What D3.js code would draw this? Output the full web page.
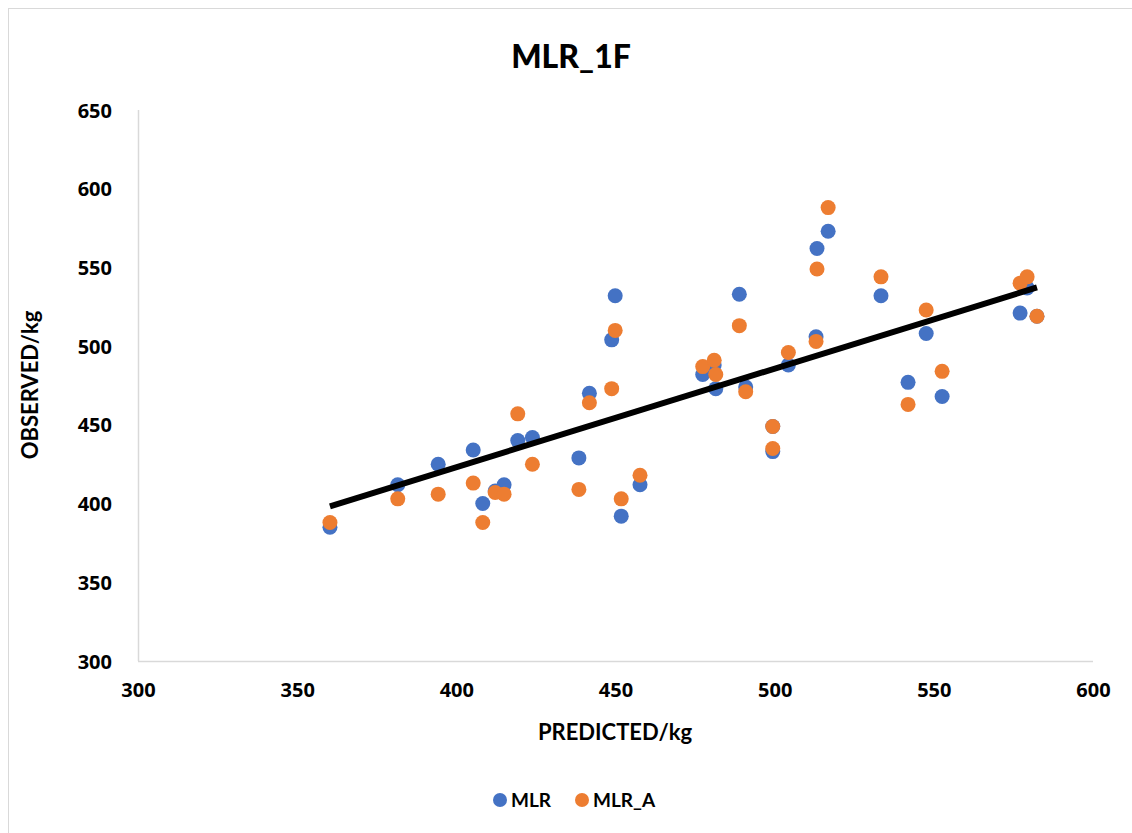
<!DOCTYPE html>
<html>
<head>
<meta charset="utf-8">
<script src="https://cdn.jsdelivr.net/npm/d3@7"></script>
<style>
    body { margin: 0; background: #fff; }
    text { fill: #000; }
</style>
</head>
<body>
<div id="chart"></div>
<script>
// values
const predicted = [360.3, 381.6, 394.3, 405.3, 408.3, 412.2, 415.0, 419.3, 423.9, 438.5,
    441.8, 448.8, 449.9, 451.8, 457.7, 477.4, 481.0, 481.5, 488.9, 490.9,
    499.4, 499.4, 504.3, 513.0, 513.3, 516.8, 533.4, 541.9, 547.6, 552.6,
    577.1, 579.3, 582.4];
const mlr = [385, 412, 425, 434, 400, 408, 412, 440, 442, 429,
    470, 504, 532, 392, 412, 482, 488, 473, 533, 474,
    433, 449, 488, 506, 562, 573, 532, 477, 508, 468,
    521, 537, 519];
const mlrA = [388, 403, 406, 413, 388, 407, 406, 457, 425, 409,
    464, 473, 510, 403, 418, 487, 491, 482, 513, 471,
    435, 449, 496, 503, 549, 588, 544, 463, 523, 484,
    540, 544, 519];
const xTicks = [300, 350, 400, 450, 500, 550, 600];
const yTicks = [300, 350, 400, 450, 500, 550, 600, 650];
const seriesNames = ["MLR", "MLR_A"];
const seriesColors = ["#4472C4", "#ED7D31"];

const W = 1132, H = 833;
const margin = { top: 110, right: 39, bottom: 172, left: 138 };
const width = W - margin.left - margin.right;
const height = H - margin.top - margin.bottom;

const svg = d3.select("#chart").append("svg")
    .attr("width", W)
    .attr("height", H);

svg.append("rect")
    .attr("x", 8.5).attr("y", 8.5)
    .attr("width", W + 20).attr("height", H + 20)
    .attr("fill", "#fff")
    .attr("stroke", "#d9d9d9");

const g = svg.append("g")
    .attr("transform", `translate(${margin.left},${margin.top})`);

const x = d3.scaleLinear().domain([300, 600]).range([0, width]);
const y = d3.scaleLinear().domain([300, 650]).range([height, 0]);

// axes: plain grey lines, no ticks
const xAxis = g.append("g")
    .attr("transform", `translate(0,${height})`)
    .call(d3.axisBottom(x).tickValues(xTicks).tickSize(0).tickPadding(22));
const yAxis = g.append("g")
    .call(d3.axisLeft(y).tickValues(yTicks).tickSize(0).tickPadding(26));

[xAxis, yAxis].forEach(a => {
    a.select(".domain").attr("stroke", "#d9d9d9").attr("stroke-width", 1.5);
    a.selectAll("text")
        .style("font-family", "'Open Sans', sans-serif")
        .style("font-weight", "700")
        .style("font-size", "20px")
        .attr("fill", "#000");
});
yAxis.selectAll("text").attr("dy", "0.35em");
xAxis.select(".domain").attr("d", `M0,0.5H${width}`);
yAxis.select(".domain").attr("d", `M0.5,0V${height}`);

// points
const pts = predicted.map((p, i) => ({ p, a: mlr[i], b: mlrA[i] }));
[mlr, mlrA].forEach((vals, s) => {
    g.append("g").selectAll("circle")
        .data(pts)
        .enter().append("circle")
        .attr("cx", d => x(d.p))
        .attr("cy", (d, i) => y(vals[i]))
        .attr("r", 7.5)
        .attr("fill", seriesColors[s]);
});

// linear trendline on MLR series
const mx = d3.mean(predicted), my = d3.mean(mlr);
const slope = d3.sum(predicted, (v, i) => (v - mx) * (mlr[i] - my)) /
    d3.sum(predicted, v => (v - mx) * (v - mx));
const intercept = my - slope * mx;
const ext = d3.extent(predicted);
g.append("path")
    .datum(ext.map(v => [v, intercept + slope * v]))
    .attr("d", d3.line().x(d => x(d[0])).y(d => y(d[1])))
    .attr("stroke", "#000")
    .attr("stroke-width", 6)
    .attr("fill", "none");

// titles
svg.append("text")
    .attr("x", 571).attr("y", 68)
    .attr("text-anchor", "middle")
    .style("font-family", "Lato, sans-serif")
    .style("font-weight", "900")
    .style("font-size", "32px")
    .text("MLR_1F");

svg.append("text")
    .attr("x", 615).attr("y", 740)
    .attr("text-anchor", "middle")
    .style("font-family", "Lato, sans-serif")
    .style("font-weight", "700")
    .style("font-size", "22px")
    .text("PREDICTED/kg");

svg.append("text")
    .attr("transform", "translate(38,385) rotate(-90)")
    .attr("text-anchor", "middle")
    .style("font-family", "Lato, sans-serif")
    .style("font-weight", "700")
    .style("font-size", "22px")
    .text("OBSERVED/kg");

// legend
const legend = svg.append("g").attr("transform", "translate(500,800)");
const legX = [0, 82];
seriesNames.forEach((name, i) => {
    const item = legend.append("g").attr("transform", `translate(${legX[i]},0)`);
    item.append("circle").attr("r", 7).attr("fill", seriesColors[i]);
    item.append("text")
        .attr("x", 11).attr("dy", "0.35em")
        .style("font-family", "Lato, sans-serif")
        .style("font-weight", "700")
        .style("font-size", "19px")
        .text(name);
});
</script>
</body>
</html>
